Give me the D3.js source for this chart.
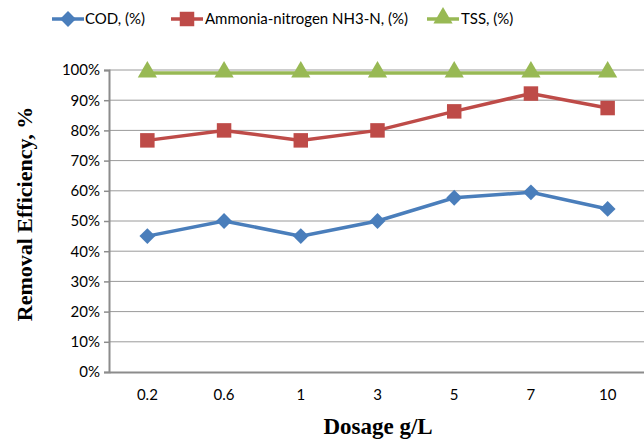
<!DOCTYPE html>
<html>
<head>
<meta charset="utf-8">
<script src="https://cdn.jsdelivr.net/npm/d3@7"></script>
<style>
  body { margin: 0; background: #fff; }
  text { font-family: Lato, "Open Sans", sans-serif; }
</style>
</head>
<body>
<div id="chart"></div>
<script>

const dosages = ["0.2", "0.6", "1", "3", "5", "7", "10"];
const codValues = [45, 50, 45, 50, 57.7, 59.5, 54];
const ammoniaValues = [76.7, 80, 76.7, 80, 86.3, 92.2, 87.4];
const tssValues = [99, 99, 99, 99, 99, 99, 99];
const yTicks = [0, 10, 20, 30, 40, 50, 60, 70, 80, 90, 100];

const seriesList = [
    { name: "COD, (%)", values: codValues, color: "#4a7ebb", shape: "diamond" },
    { name: "Ammonia-nitrogen NH3-N, (%)", values: ammoniaValues, color: "#be4b48", shape: "square" },
    { name: "TSS, (%)", values: tssValues, color: "#98b954", shape: "triangle" }
];

const dimensions = {
    width: 644,
    height: 441,
    margin: { top: 70, bottom: 69, left: 109, right: -2 }
};
dimensions.containerWidth = dimensions.width - dimensions.margin.left - dimensions.margin.right;
dimensions.containerHeight = dimensions.height - dimensions.margin.top - dimensions.margin.bottom;

const svg = d3.select("#chart")
    .append("svg")
    .attr("width", dimensions.width)
    .attr("height", dimensions.height);

const container = svg.append("g")
    .attr("transform", `translate(${dimensions.margin.left}, ${dimensions.margin.top})`);

const xScale = d3.scaleBand()
    .domain(dosages)
    .range([0, dimensions.containerWidth]);

const yScale = d3.scaleLinear()
    .domain([0, 100])
    .range([dimensions.containerHeight, 0]);

// gridlines
container.append("g")
    .selectAll("line")
    .data(yTicks.filter(d => d > 0))
    .join("line")
    .attr("x1", 0)
    .attr("x2", dimensions.containerWidth)
    .attr("y1", d => yScale(d))
    .attr("y2", d => yScale(d))
    .attr("stroke", "#9a9a9a")
    .attr("stroke-width", 1);

// y axis
const yAxis = d3.axisLeft(yScale)
    .tickValues(yTicks)
    .tickFormat(d => d + "%")
    .tickSize(5)
    .tickPadding(4);

const yAxisGroup = container.append("g").call(yAxis);
yAxisGroup.select(".domain").attr("stroke", "#8c8c8c").attr("stroke-width", 2);
yAxisGroup.selectAll(".tick line").attr("stroke", "#8c8c8c").attr("stroke-width", 1.5);
yAxisGroup.selectAll(".tick text")
    .attr("font-size", 15)
    .attr("fill", "#000")
    .style("font-family", "Lato, sans-serif");

// x axis
const xAxis = d3.axisBottom(xScale).tickSize(0).tickPadding(17);
const xAxisGroup = container.append("g")
    .call(xAxis)
    .attr("transform", `translate(0, ${dimensions.containerHeight})`);
xAxisGroup.select(".domain").attr("stroke", "#8c8c8c").attr("stroke-width", 2);
xAxisGroup.selectAll(".tick text")
    .attr("font-size", 15)
    .attr("fill", "#000")
    .style("font-family", "Lato, sans-serif");

const xPos = d => xScale(d) + xScale.bandwidth() / 2;

const symbolFor = shape => {
    if (shape === "diamond") return d3.symbol().type(d3.symbolDiamond2).size(160)();
    if (shape === "square") return d3.symbol().type(d3.symbolSquare).size(210)();
    return d3.symbol().type(d3.symbolTriangle).size(160)();
};

const line = d3.line()
    .x((d, i) => xPos(dosages[i]))
    .y(d => yScale(d));

seriesList.forEach(s => {
    container.append("path")
        .datum(s.values)
        .attr("fill", "none")
        .attr("stroke", s.color)
        .attr("stroke-width", 3.5)
        .attr("d", line);

    container.append("g")
        .selectAll("path")
        .data(s.values)
        .join("path")
        .attr("d", symbolFor(s.shape))
        .attr("transform", (d, i) => `translate(${xPos(dosages[i])}, ${yScale(d) + (s.shape === "triangle" ? -1 : 0)})`)
        .attr("fill", s.color);
});

// legend
const legendItems = [
    { x: 52, textX: 85 },
    { x: 171, textX: 205 },
    { x: 427, textX: 461 }
];

const legend = svg.append("g");
seriesList.forEach((s, i) => {
    const item = legend.append("g");
    item.append("line")
        .attr("x1", legendItems[i].x)
        .attr("x2", legendItems[i].x + 32)
        .attr("y1", 19)
        .attr("y2", 19)
        .attr("stroke", s.color)
        .attr("stroke-width", 3.5);
    item.append("path")
        .attr("d", symbolFor(s.shape))
        .attr("transform", `translate(${legendItems[i].x + 16}, ${s.shape === "triangle" ? 18 : 19})`)
        .attr("fill", s.color);
    item.append("text")
        .attr("x", legendItems[i].textX)
        .attr("y", 24)
        .attr("font-size", 15)
        .text(s.name);
});

// axis titles
svg.append("text")
    .attr("x", 378)
    .attr("y", 434)
    .attr("text-anchor", "middle")
    .attr("font-size", 23)
    .attr("font-weight", "bold")
    .style("font-family", "'Liberation Serif', serif")
    .text("Dosage g/L");

svg.append("text")
    .attr("transform", "translate(32, 214) rotate(-90)")
    .attr("text-anchor", "middle")
    .attr("font-size", 22)
    .attr("font-weight", "bold")
    .style("font-family", "'Liberation Serif', serif")
    .text("Removal Efficiency, %");

</script>
</body>
</html>
